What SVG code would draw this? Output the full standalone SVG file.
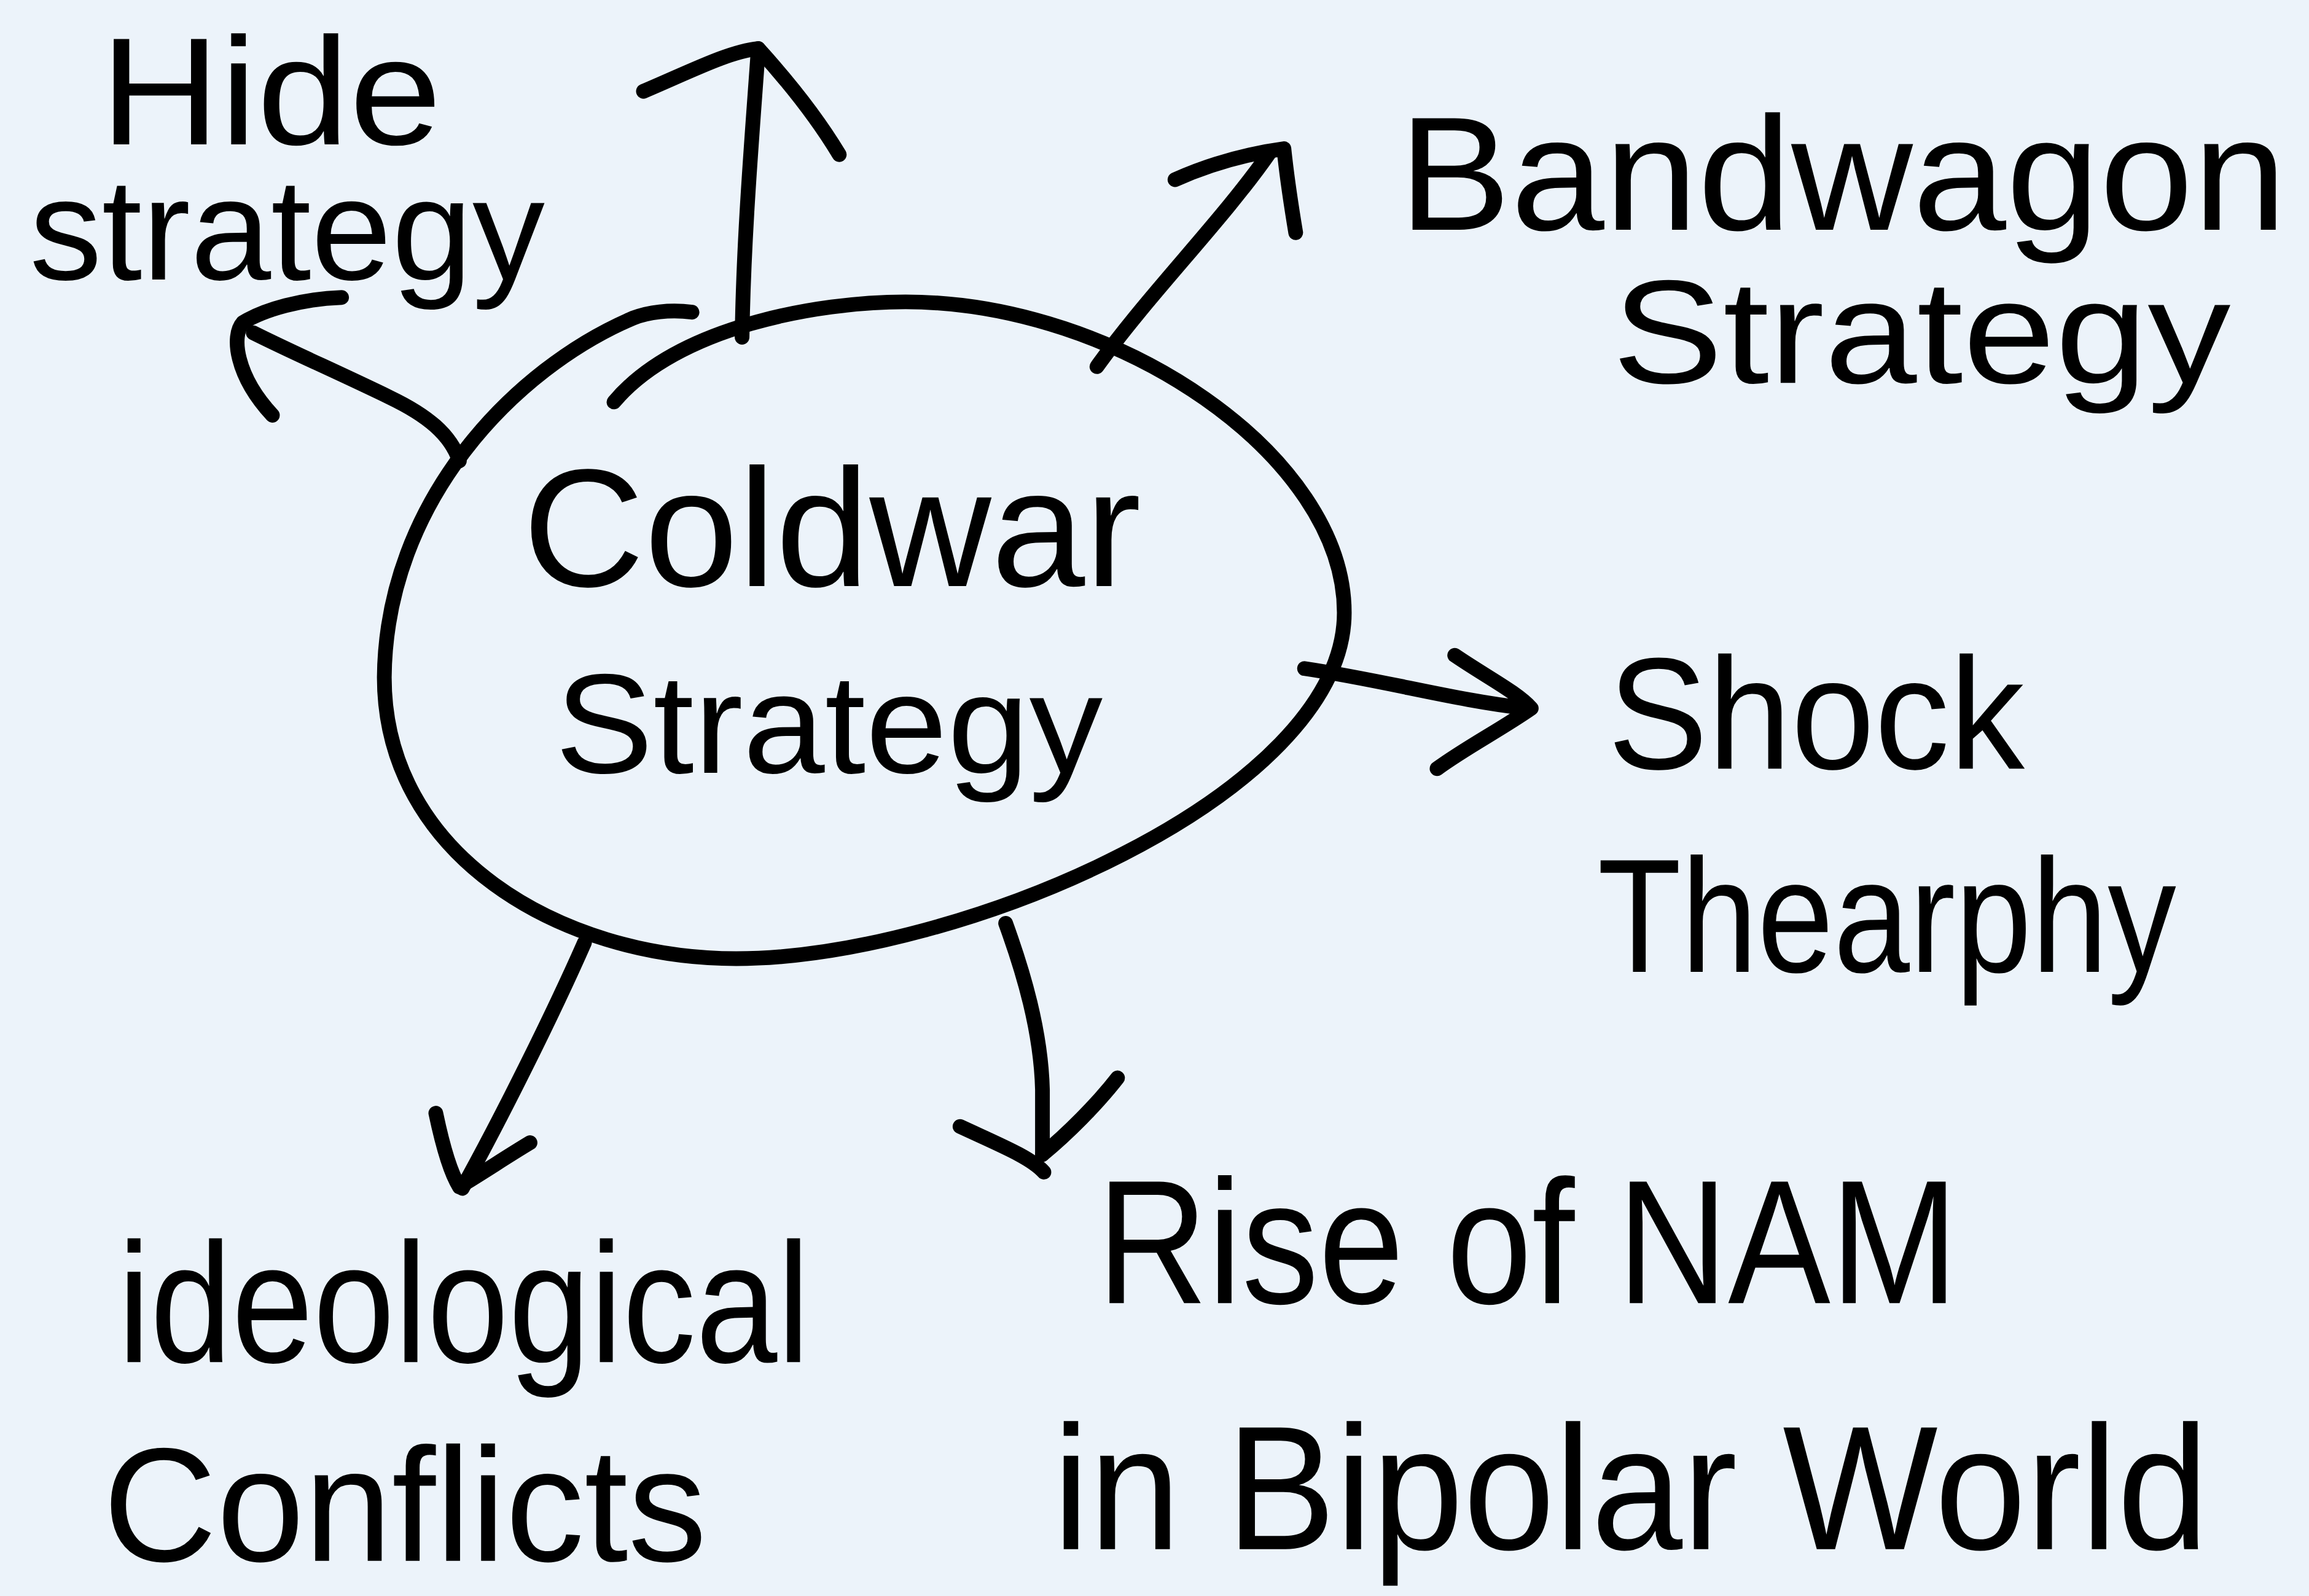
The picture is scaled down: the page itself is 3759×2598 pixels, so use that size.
<svg xmlns="http://www.w3.org/2000/svg" width="3759" height="2598" viewBox="0 0 3759 2598">
<style>
.ink{fill:none;stroke:#000;stroke-width:10;stroke-linecap:round;stroke-linejoin:round}
.lbl{font-family:"Liberation Sans","DejaVu Sans",sans-serif;fill:#000;font-weight:400}
</style>
<rect x="0" y="0" width="3759" height="2598" fill="#ECF3FA"/>
<g transform="scale(2.397)">
<g id="node-center">
<path class="ink" d="M470,212 C455,210 440,212 430,216 C350,250 262,340 261,460 C261,580 380,651 500,651 C650,651 913,540 913,416 C913,310 760,205 615,205 C555,205 460,222 417,273"/>
<text class="lbl" x="355" y="398" font-size="114" textLength="420" lengthAdjust="spacingAndGlyphs">Coldwar</text>
<text class="lbl" x="377" y="525" font-size="96" textLength="372" lengthAdjust="spacingAndGlyphs">Strategy</text>
</g>
<g id="node-hide">
<text class="lbl" x="68" y="98" font-size="104" textLength="232" lengthAdjust="spacingAndGlyphs">Hide</text>
<text class="lbl" x="20" y="190" font-size="98" textLength="350" lengthAdjust="spacingAndGlyphs">strategy</text>
</g>
<g id="node-bandwagon">
<text class="lbl" x="950" y="156" font-size="110" textLength="603" lengthAdjust="spacingAndGlyphs">Bandwagon</text>
<text class="lbl" x="1095" y="260" font-size="100" textLength="420" lengthAdjust="spacingAndGlyphs">Strategy</text>
</g>
<g id="node-shock">
<text class="lbl" x="1092" y="522" font-size="108" textLength="283" lengthAdjust="spacingAndGlyphs">Shock</text>
<text class="lbl" x="1085" y="660" font-size="110" textLength="393" lengthAdjust="spacingAndGlyphs">Thearphy</text>
</g>
<g id="node-nam">
<text class="lbl" x="745" y="885" font-size="120" textLength="585" lengthAdjust="spacingAndGlyphs">Rise of NAM</text>
<text class="lbl" x="715" y="1052" font-size="120" textLength="785" lengthAdjust="spacingAndGlyphs">in Bipolar World</text>
</g>
<g id="node-ideological">
<text class="lbl" x="80" y="925" font-size="116" textLength="470" lengthAdjust="spacingAndGlyphs">ideological</text>
<text class="lbl" x="70" y="1060" font-size="110" textLength="410" lengthAdjust="spacingAndGlyphs">Conflicts</text>
</g>
<g id="connectors">
<path class="ink" d="M504,229 C505,160 511,90 515,33"/>
<path class="ink" d="M437,62 C470,48 495,35 515,33 C535,55 555,80 570,105"/>
<path class="ink" d="M312,313 C306,295 290,282 265,270 C230,253 200,240 172,226"/>
<path class="ink" d="M232,202 C205,203 180,210 165,219 C157,228 160,255 185,282"/>
<path class="ink" d="M745,249 C780,200 830,150 862,104"/>
<path class="ink" d="M798,122 C825,110 850,104 872,101 C874,120 877,140 880,158"/>
<path class="ink" d="M886,454 C940,462 990,476 1037,481"/>
<path class="ink" d="M988,445 C1010,460 1030,470 1040,481 C1020,495 995,508 976,522"/>
<path class="ink" d="M397,640 C375,690 340,760 314,807"/>
<path class="ink" d="M296,756 C300,775 305,795 312,806 C330,795 345,785 360,776"/>
<path class="ink" d="M683,627 C695,660 707,700 708,740 C708,760 708,772 708,784"/>
<path class="ink" d="M759,732 C745,750 725,770 708,784"/>
<path class="ink" d="M652,765 C680,778 700,786 709,796"/>
</g>
</g>
</svg>
